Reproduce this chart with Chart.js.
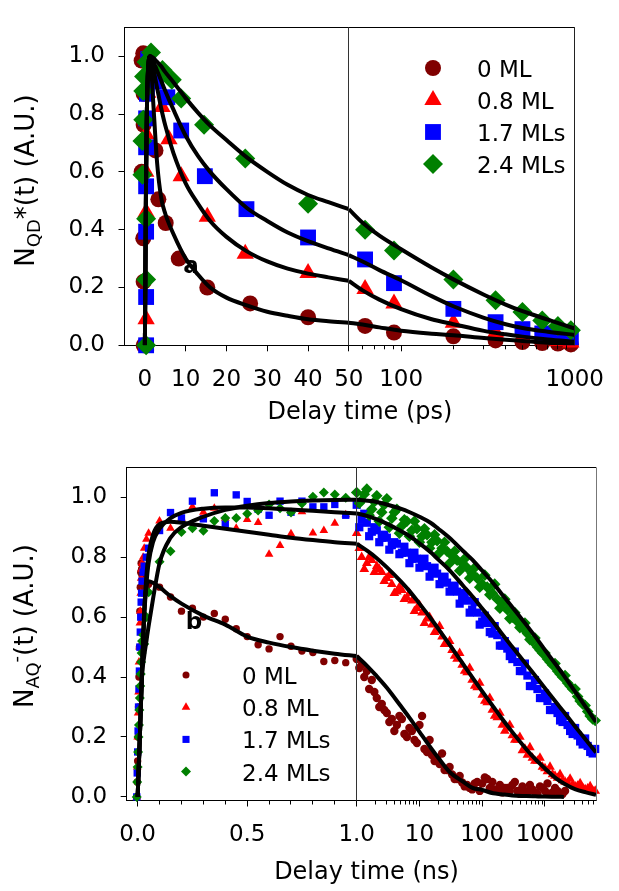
<!DOCTYPE html>
<html>
<head>
<meta charset="utf-8">
<script src="https://cdn.jsdelivr.net/npm/chart.js@4.4.0/dist/chart.umd.min.js"></script>
<style>
  html, body { margin: 0; padding: 0; background: #fff; }
  canvas { display: block; position: absolute; left: 0; }
  #chartA { top: 0; }
  #chartB { top: 440px; }
</style>
</head>
<body>
<canvas id="chartA" width="619" height="440"></canvas>
<canvas id="chartB" width="619" height="451"></canvas>
<script>
const FAMILY = "'DejaVu Sans', sans-serif";

const seriesNames = ["0 ML", "0.8 ML", "1.7 MLs", "2.4 MLs"];
const seriesColors = ["#800000", "#ff0000", "#0000ff", "#008000"];
const pointStyles = ["circle", "triangle", "rect", "rectRot"];

// ---- panel a : QD* population, delay in ps ----
const aLinTicks = [0, 10, 20, 30, 40, 50];
const aLogTicks = [100, 1000];
const aLogMinor = [60, 70, 80, 90, 200, 300, 400, 500, 600, 700, 800, 900];
const yTicks = [0, 0.2, 0.4, 0.6, 0.8, 1.0];

const aLinT0 = [-0.3, -0.3, -0.4, -0.8, -0.3, -0.3, -0.8, -0.4, 2.6, 3.3, 5.1, 8.3, 15.3, 25.8, 40];
const aLinY0 = [0, 0.22, 0.37, 0.60, 0.763, 0.87, 0.985, 1.01, 0.674, 0.505, 0.423, 0.30, 0.20, 0.145, 0.097];
const aLinT1 = [0.2, 0.3, 0.3, 0.2, 0.3, 0.7, 0.4, 4.2, 5.9, 8.9, 15.3, 24.6, 40];
const aLinY1 = [0, 0.09, 0.46, 0.60, 0.73, 0.874, 0.997, 0.824, 0.713, 0.585, 0.445, 0.317, 0.25];
const aLinT2 = [0.3, 0.3, 0.3, 0.3, 0.3, 0.3, 0.5, 0.8, 2.7, 5.5, 8.9, 14.7, 24.9, 40];
const aLinY2 = [0, 0.167, 0.393, 0.55, 0.685, 0.785, 0.87, 0.99, 0.913, 0.858, 0.743, 0.585, 0.471, 0.373];
const aLinT3 = [0.3, 0.3, 0.3, -0.6, -0.6, -0.4, -0.4, -0.2, 0.4, 1.5, 4.3, 6.6, 8.9, 14.5, 24.6, 40];
const aLinY3 = [0, 0.228, 0.438, 0.59, 0.707, 0.78, 0.88, 0.93, 0.98, 1.013, 0.952, 0.919, 0.854, 0.763, 0.646, 0.49];

const aLogT = [62, 91, 200, 350, 500, 650, 800, 950];
const aLogY0 = [0.067, 0.044, 0.031, 0.017, 0.011, 0.008, 0.006, 0.003];
const aLogY1 = [0.195, 0.145, 0.078, 0.044, 0.028, 0.022, 0.015, 0.010];
const aLogY2 = [0.297, 0.215, 0.126, 0.080, 0.056, 0.041, 0.035, 0.028];
const aLogY3 = [0.400, 0.328, 0.228, 0.156, 0.115, 0.086, 0.067, 0.052];

const aFitLinT = [0, 0.3, 0.7, 1.3, 2, 3, 4, 5, 7, 10, 13, 16, 20, 25, 30, 35, 40, 45, 50];
const aFitLin0 = [0, 0.6, 0.93, 1.0, 0.85, 0.63, 0.51, 0.455, 0.385, 0.30, 0.245, 0.20, 0.165, 0.138, 0.116, 0.102, 0.09, 0.083, 0.078];
const aFitLin1 = [0, 0.6, 0.93, 1.0, 0.96, 0.89, 0.82, 0.76, 0.665, 0.56, 0.49, 0.43, 0.375, 0.325, 0.29, 0.265, 0.248, 0.235, 0.223];
const aFitLin2 = [0, 0.6, 0.93, 1.0, 0.985, 0.95, 0.915, 0.88, 0.815, 0.725, 0.655, 0.60, 0.54, 0.475, 0.43, 0.39, 0.36, 0.335, 0.312];
const aFitLin3 = [0, 0.6, 0.93, 1.0, 0.995, 0.98, 0.965, 0.945, 0.91, 0.855, 0.805, 0.76, 0.71, 0.65, 0.60, 0.555, 0.52, 0.495, 0.471];

const aFitLogT = [50, 60, 75, 100, 150, 200, 300, 400, 500, 700, 1000];
const aFitLog0 = [0.078, 0.072, 0.062, 0.050, 0.040, 0.035, 0.025, 0.019, 0.015, 0.009, 0.005];
const aFitLog1 = [0.223, 0.190, 0.158, 0.125, 0.090, 0.073, 0.050, 0.038, 0.030, 0.020, 0.012];
const aFitLog2 = [0.312, 0.290, 0.260, 0.225, 0.170, 0.135, 0.095, 0.073, 0.060, 0.047, 0.036];
const aFitLog3 = [0.471, 0.424, 0.379, 0.332, 0.269, 0.228, 0.175, 0.141, 0.118, 0.089, 0.058];

// ---- panel b : AQ- population, delay in ns ----
const bLinTicks = [0, 0.5];
const bLinMinor = [0.1, 0.2, 0.3, 0.4, 0.6, 0.7, 0.8, 0.9];
const bLogTicks = [1, 10, 100, 1000];
const bLogMinor = [2, 3, 4, 5, 6, 7, 8, 9, 20, 30, 40, 50, 60, 70, 80, 90,
  200, 300, 400, 500, 600, 700, 800, 900, 2000, 3000, 4000, 5000, 6000];

const bLinT = [-0.004, -0.002, 0, 0.002, 0.004, 0.006, 0.008, 0.010, 0.012, 0.014, 0.016, 0.018, 0.020, 0.025, 0.030, 0.040,
  0.05, 0.1, 0.15, 0.2, 0.25, 0.3, 0.35, 0.4, 0.45, 0.5, 0.55, 0.6, 0.65, 0.7, 0.75, 0.8, 0.85, 0.9, 0.95];
const bLinY0 = [0, 0.05, 0.12, 0.2, 0.3, 0.4, 0.5, 0.62, 0.7, 0.75, 0.78, 0.76, 0.74, 0.68, 0.72, 0.70,
  0.71, 0.70, 0.667, 0.62, 0.63, 0.60, 0.612, 0.593, 0.561, 0.535, 0.508, 0.494, 0.535, 0.503, 0.487, 0.482, 0.452, 0.455, 0.448];
const bLinY1 = [0, 0.1, 0.2, 0.28, 0.35, 0.45, 0.5, 0.58, 0.62, 0.68, 0.73, 0.76, 0.78, 0.80, 0.83, 0.86,
  0.88, 0.921, 0.897, 0.93, 0.968, 0.95, 0.963, 0.93, 0.897, 0.926, 0.916, 0.81, 0.839, 0.878, 0.952, 0.881, 0.889, 0.913, 0.942];
const bLinY2 = [0, 0.08, 0.15, 0.22, 0.3, 0.36, 0.42, 0.5, 0.55, 0.6, 0.65, 0.68, 0.72, 0.75, 0.77, 0.80,
  0.83, 0.889, 0.949, 0.931, 0.987, 0.928, 1.015, 0.91, 1.008, 0.986, 0.96, 0.94, 0.987, 0.95, 0.987, 0.968, 0.968, 0.976, 0.94];
const bLinY3 = [0, 0.05, 0.1, 0.15, 0.2, 0.24, 0.29, 0.33, 0.37, 0.41, 0.45, 0.48, 0.52, 0.54, 0.51, 0.60,
  0.683, 0.785, 0.82, 0.884, 0.897, 0.888, 0.921, 0.931, 0.931, 0.945, 0.956, 0.976, 0.963, 0.949, 0.979, 1.002, 1.016, 1.009, 0.998];

// two interleaved sets of log-time samples (dense bands in the reference)
const bLogT = [1, 1.2, 1.45, 1.74, 2.09, 2.51, 3.02, 3.63, 4.37, 5.25, 6.31, 7.59, 9.12, 11, 13.2, 15.8,
  19.1, 22.9, 27.5, 33.1, 39.8, 47.9, 57.5, 69.2, 83.2, 100, 120, 145, 174, 209, 251, 302,
  363, 437, 525, 631, 759, 912, 1096, 1318, 1585, 1905, 2291, 2754, 3311, 3981, 4786, 5754];
const bLogT2 = [1.1, 1.32, 1.58, 1.91, 2.29, 2.75, 3.31, 3.98, 4.79, 5.75, 6.92, 8.32, 10, 12, 14.5, 17.4,
  20.9, 25.1, 30.2, 36.3, 43.7, 52.5, 63.1, 75.9, 91.2, 110, 132, 158, 191, 229, 275, 331,
  398, 479, 575, 692, 832, 1000, 1202, 1445, 1738, 2089, 2512, 3020, 3631, 4365, 5248, 6310];

const bLogY0 = [0.46, 0.44, 0.42, 0.39, 0.33, 0.31, 0.28, 0.26, 0.24, 0.26, 0.20, 0.22, 0.18, 0.27, 0.15, 0.14,
  0.13, 0.145, 0.09, 0.075, 0.06, 0.048, 0.04, 0.025, 0.05, 0.045, 0.06, 0.05, 0.02, 0.015, 0.03, 0.04,
  0.02, 0.035, 0.015, 0.025, 0.01, 0.03, 0.045, 0.015, 0.02, 0.01];
const bLogY0b = [0.43, 0.40, 0.36, 0.35, 0.30, 0.29, 0.25, 0.22, 0.27, 0.21, 0.23, 0.19, 0.24, 0.16, 0.19, 0.12,
  0.11, 0.09, 0.10, 0.06, 0.07, 0.035, 0.03, 0.045, 0.02, 0.065, 0.03, 0.025, 0.04, 0.03, 0.02, 0.05,
  0.01, 0.02, 0.04, 0.015, 0.035, 0.02, 0.01, 0.03, 0.01, 0.02];
const bLogY1 = [0.88, 0.80, 0.78, 0.79, 0.77, 0.75, 0.73, 0.71, 0.685, 0.69, 0.665, 0.655, 0.63, 0.615, 0.595, 0.575,
  0.555, 0.535, 0.51, 0.49, 0.46, 0.44, 0.415, 0.39, 0.365, 0.34, 0.315, 0.29, 0.265, 0.24, 0.23, 0.205,
  0.19, 0.155, 0.14, 0.13, 0.12, 0.10, 0.085, 0.075, 0.063, 0.055, 0.048, 0.04, 0.037, 0.03, 0.028, 0.02];
const bLogY1b = [0.83, 0.76, 0.80, 0.75, 0.76, 0.72, 0.74, 0.68, 0.70, 0.66, 0.68, 0.62, 0.64, 0.58, 0.60, 0.55,
  0.57, 0.51, 0.52, 0.47, 0.48, 0.42, 0.43, 0.37, 0.38, 0.32, 0.33, 0.27, 0.28, 0.22, 0.24, 0.19,
  0.20, 0.16, 0.165, 0.12, 0.13, 0.095, 0.10, 0.07, 0.075, 0.05, 0.06, 0.035, 0.045, 0.025, 0.035, 0.02];
const bLogY2 = [0.975, 0.925, 0.915, 0.885, 0.89, 0.865, 0.865, 0.84, 0.845, 0.815, 0.815, 0.795, 0.795, 0.785, 0.77, 0.75,
  0.745, 0.725, 0.715, 0.695, 0.685, 0.66, 0.655, 0.625, 0.615, 0.585, 0.58, 0.545, 0.54, 0.505, 0.495, 0.46,
  0.45, 0.42, 0.405, 0.37, 0.36, 0.33, 0.32, 0.29, 0.28, 0.25, 0.24, 0.21, 0.205, 0.175, 0.17, 0.145];
const bLogY2b = [0.90, 0.945, 0.87, 0.90, 0.85, 0.875, 0.825, 0.85, 0.81, 0.835, 0.78, 0.815, 0.765, 0.795, 0.735, 0.765,
  0.71, 0.735, 0.685, 0.705, 0.645, 0.68, 0.615, 0.65, 0.575, 0.605, 0.55, 0.57, 0.505, 0.52, 0.47, 0.485,
  0.42, 0.445, 0.37, 0.39, 0.33, 0.345, 0.29, 0.30, 0.255, 0.27, 0.22, 0.23, 0.185, 0.195, 0.15, 0.16];
const bLogY3 = [1.016, 0.99, 1.027, 0.96, 1.005, 0.95, 0.995, 0.93, 0.96, 0.905, 0.92, 0.89, 0.895, 0.87, 0.875, 0.85,
  0.855, 0.83, 0.82, 0.805, 0.79, 0.78, 0.765, 0.745, 0.73, 0.71, 0.70, 0.68, 0.66, 0.645, 0.625, 0.60,
  0.585, 0.565, 0.545, 0.52, 0.50, 0.48, 0.46, 0.44, 0.42, 0.40, 0.38, 0.36, 0.335, 0.31, 0.285, 0.26];
const bLogY3b = [0.98, 1.01, 0.94, 0.985, 0.92, 0.975, 0.90, 0.95, 0.88, 0.925, 0.87, 0.92, 0.85, 0.895, 0.83, 0.875,
  0.815, 0.85, 0.78, 0.82, 0.755, 0.795, 0.73, 0.765, 0.70, 0.74, 0.675, 0.71, 0.63, 0.66, 0.595, 0.615,
  0.565, 0.58, 0.525, 0.53, 0.49, 0.48, 0.45, 0.445, 0.41, 0.405, 0.37, 0.36, 0.32, 0.305, 0.27, 0.255];

const bFitLinT = [0, 0.01, 0.02, 0.03, 0.04, 0.05, 0.07, 0.1, 0.15, 0.2, 0.3, 0.4, 0.5, 0.6, 0.7, 0.8, 0.9, 1.0];
const bFitLin0 = [0, 0.2, 0.42, 0.62, 0.70, 0.72, 0.715, 0.70, 0.67, 0.645, 0.605, 0.575, 0.535, 0.515, 0.50, 0.488, 0.478, 0.47];
const bFitLin1 = [0, 0.2, 0.42, 0.62, 0.74, 0.81, 0.875, 0.91, 0.918, 0.915, 0.905, 0.895, 0.885, 0.875, 0.865, 0.857, 0.85, 0.845];
const bFitLin2 = [0, 0.2, 0.42, 0.60, 0.71, 0.78, 0.85, 0.895, 0.93, 0.948, 0.962, 0.966, 0.966, 0.963, 0.959, 0.955, 0.95, 0.946];
const bFitLin3 = [0, 0.2, 0.40, 0.47, 0.52, 0.57, 0.66, 0.78, 0.865, 0.90, 0.935, 0.958, 0.972, 0.981, 0.986, 0.989, 0.991, 0.992];

const bFitLogT = [1, 1.5, 2, 3, 5, 7, 10, 15, 20, 30, 50, 70, 100, 150, 200, 300, 500, 700, 1000, 1500, 2000, 3000, 4500, 6500];
const bFitLog0 = [0.47, 0.435, 0.407, 0.365, 0.304, 0.263, 0.217, 0.165, 0.13, 0.084, 0.05, 0.03, 0.023, 0.012, 0.009, 0.005,
  0.003, 0.002, 0.001, 0.0005, 0];
const bFitLog1 = [0.845, 0.82, 0.80, 0.767, 0.72, 0.686, 0.645, 0.597, 0.561, 0.509, 0.442, 0.398, 0.352, 0.301, 0.265, 0.217,
  0.16, 0.126, 0.095, 0.062, 0.045, 0.026, 0.015, 0.007];
const bFitLog2 = [0.946, 0.937, 0.928, 0.912, 0.888, 0.87, 0.846, 0.817, 0.792, 0.757, 0.704, 0.669, 0.629, 0.583, 0.548, 0.501,
  0.443, 0.404, 0.363, 0.316, 0.283, 0.236, 0.19, 0.148];
const bFitLog3 = [0.992, 0.988, 0.985, 0.976, 0.962, 0.95, 0.935, 0.915, 0.895, 0.865, 0.82, 0.791, 0.755, 0.713, 0.68, 0.634,
  0.575, 0.535, 0.49, 0.441, 0.405, 0.352, 0.299, 0.25];

function pts(xs, ys) {
  return ys.map((y, k) => ({ x: xs[k], y: y }));
}

function scatterSet(xs, ys, i, axis, radii) {
  return {
    label: seriesNames[i],
    data: pts(xs, ys),
    xAxisID: axis,
    yAxisID: "y",
    showLine: false,
    pointStyle: pointStyles[i],
    pointRadius: radii[i],
    pointBackgroundColor: seriesColors[i],
    pointBorderWidth: 0,
    clip: false,
    order: 4 - i
  };
}

function fitSet(xs, ys, axis) {
  return {
    data: pts(xs, ys),
    xAxisID: axis,
    yAxisID: "y",
    showLine: true,
    pointRadius: 0,
    borderColor: "#000",
    borderWidth: 4,
    cubicInterpolationMode: "monotone",
    fill: false,
    order: 0
  };
}

const tickFont = { family: FAMILY, size: 23 };
const gridOpts = { display: true, drawOnChartArea: false, drawTicks: true, tickLength: 6, tickWidth: 1, tickColor: "#000", color: "#000" };
const borderOpts = { display: true, color: "#000", width: 1 };

function xScale(type, s, height) {
  return {
    type: type, axis: "x", position: "bottom", stack: "x", stackWeight: s.weight,
    min: s.min, max: s.max,
    grid: gridOpts, border: borderOpts,
    ticks: { font: tickFont, color: "#000", padding: 15, autoSkip: false, maxRotation: 0, minRotation: 0, callback: s.label },
    afterBuildTicks: sc => { sc.ticks = s.ticks.map(v => ({ value: v })); },
    afterFit: sc => { sc.height = height; }
  };
}

function makeDecor(d) {
  return {
    id: "decor",
    afterDraw(chart) {
      const ctx = chart.ctx;
      const area = chart.chartArea;
      const xl = chart.scales.xLin;
      const xg = chart.scales.xLog;
      const crisp = v => Math.round(v - 0.5) + 0.5;
      ctx.save();
      ctx.lineWidth = 1;
      ctx.strokeStyle = "#000";
      ctx.beginPath();
      ctx.moveTo(area.left, crisp(area.top));
      ctx.lineTo(area.right, crisp(area.top));
      ctx.stroke();
      ctx.strokeStyle = d.rightColor;
      ctx.beginPath();
      ctx.moveTo(crisp(area.right), area.top);
      ctx.lineTo(crisp(area.right), area.bottom);
      ctx.stroke();
      ctx.strokeStyle = "#333";
      ctx.beginPath();
      ctx.moveTo(crisp(xl.right), area.top);
      ctx.lineTo(crisp(xl.right), area.bottom);
      ctx.stroke();

      // minor ticks
      ctx.strokeStyle = "#000";
      ctx.beginPath();
      d.minorLin.forEach(v => {
        const x = crisp(xl.getPixelForValue(v));
        ctx.moveTo(x, area.bottom); ctx.lineTo(x, area.bottom + 4);
      });
      d.minorLog.forEach(v => {
        const x = crisp(xg.getPixelForValue(v));
        ctx.moveTo(x, area.bottom); ctx.lineTo(x, area.bottom + 4);
      });
      ctx.stroke();

      ctx.fillStyle = "#000";
      ctx.textBaseline = "alphabetic";

      // x title
      ctx.font = "24px " + FAMILY;
      ctx.textAlign = "center";
      ctx.fillText(d.xTitle, d.xTitlePos[0], d.xTitlePos[1]);

      // y title with sub/superscripts, rotated
      let total = 0;
      d.yTitle.forEach(p => {
        ctx.font = p.size + "px " + FAMILY;
        p.w = ctx.measureText(p.text).width;
        total += p.w;
      });
      ctx.save();
      ctx.translate(d.yTitlePos[0], d.yTitlePos[1]);
      ctx.rotate(-Math.PI / 2);
      ctx.textAlign = "left";
      let x = -total / 2;
      d.yTitle.forEach(p => {
        ctx.font = p.size + "px " + FAMILY;
        ctx.fillText(p.text, x, p.dy);
        x += p.w;
      });
      ctx.restore();

      // panel letter
      ctx.font = "bold 23px " + FAMILY;
      ctx.textAlign = "center";
      ctx.textBaseline = "middle";
      ctx.fillText(d.letter, d.letterPos[0], d.letterPos[1]);

      // legend
      ctx.textAlign = "left";
      ctx.textBaseline = "alphabetic";
      ctx.font = "23px " + FAMILY;
      seriesNames.forEach((name, i) => {
        const yy = d.legend.y0 + i * d.legend.dy;
        ctx.fillStyle = seriesColors[i];
        Chart.helpers.drawPoint(ctx, { pointStyle: pointStyles[i], radius: d.legend.radii[i], rotation: 0, borderWidth: 0 }, d.legend.markerX, yy);
        ctx.fillStyle = "#000";
        ctx.fillText(name, d.legend.textX, yy + d.legend.textDy);
      });
      ctx.restore();
    }
  };
}

function buildChart(id, p) {
  const datasets = [];
  p.fits.forEach(f => datasets.push(fitSet(f[0], f[1], f[2])));
  p.scatters.forEach(s => datasets.push(scatterSet(s[0], s[1], s[2], s[3], s[3] === "xLog" ? p.logRadii : p.radii)));
  return new Chart(document.getElementById(id), {
    type: "scatter",
    data: { datasets: datasets },
    options: {
      responsive: false,
      animation: false,
      devicePixelRatio: 1,
      events: [],
      layout: { padding: p.padding },
      plugins: { legend: { display: false }, tooltip: { enabled: false } },
      scales: {
        xLin: xScale("linear", p.lin, p.xHeight),
        xLog: xScale("logarithmic", p.log, p.xHeight),
        y: {
          type: "linear", position: "left", min: p.yMin, max: 1.1,
          grid: gridOpts, border: borderOpts,
          ticks: { font: tickFont, color: "#000", padding: 13.5, callback: v => v.toFixed(1) },
          afterBuildTicks: sc => { sc.ticks = yTicks.map(v => ({ value: v })); },
          afterFit: sc => { sc.width = p.yWidth; }
        }
      }
    },
    plugins: [makeDecor(p.decor)]
  });
}

const aRadii = [8, 10, 11.2, 10];
const bRadii = [3.7, 5, 5.2, 5];
const bLogRadii = [4.2, 5.6, 5.8, 5.8];

buildChart("chartA", {
  padding: { left: 0, right: 31.3, top: 15.5, bottom: 0 },
  yWidth: 124.5, xHeight: 94.7, yMin: 0, radii: aRadii, logRadii: aRadii,
  lin: { min: -5, max: 50, weight: 230.8, ticks: aLinTicks, label: v => String(v) },
  log: { min: 50, max: 1000, weight: 232.4, ticks: aLogTicks, label: v => String(v) },
  fits: [
    [aFitLinT, aFitLin0, "xLin"], [aFitLinT, aFitLin1, "xLin"], [aFitLinT, aFitLin2, "xLin"], [aFitLinT, aFitLin3, "xLin"],
    [aFitLogT, aFitLog0, "xLog"], [aFitLogT, aFitLog1, "xLog"], [aFitLogT, aFitLog2, "xLog"], [aFitLogT, aFitLog3, "xLog"]
  ],
  scatters: [
    [aLinT0, aLinY0, 0, "xLin"], [aLinT1, aLinY1, 1, "xLin"], [aLinT2, aLinY2, 2, "xLin"], [aLinT3, aLinY3, 3, "xLin"],
    [aLogT, aLogY0, 0, "xLog"], [aLogT, aLogY1, 1, "xLog"], [aLogT, aLogY2, 2, "xLog"], [aLogT, aLogY3, 3, "xLog"]
  ],
  decor: {
    rightColor: "#222",
    minorLin: [], minorLog: aLogMinor,
    xTitle: "Delay time (ps)", xTitlePos: [360, 419],
    yTitle: [{ text: "N", size: 26, dy: 0 }, { text: "QD", size: 18, dy: 6 }, { text: "*(t) (A.U.)", size: 26, dy: 0 }],
    yTitlePos: [34, 180.5],
    letter: "a", letterPos: [191, 267],
    legend: { markerX: 433, textX: 477, y0: 68, dy: 32, textDy: 9, radii: [8, 10, 11.2, 10] }
  }
});

buildChart("chartB", {
  padding: { left: 0, right: 23, top: 10.3, bottom: 0 },
  yWidth: 126.7, xHeight: 90.5, yMin: -0.012, radii: bRadii, logRadii: bLogRadii,
  lin: { min: -0.05, max: 1.0, weight: 230, ticks: bLinTicks, label: v => v.toFixed(1) },
  log: { min: 1, max: 6500, weight: 239.3, ticks: bLogTicks, label: v => (v === 1 ? "1.0" : String(v)) },
  fits: [
    [bFitLinT, bFitLin0, "xLin"], [bFitLinT, bFitLin1, "xLin"], [bFitLinT, bFitLin2, "xLin"], [bFitLinT, bFitLin3, "xLin"],
    [bFitLogT, bFitLog0, "xLog"], [bFitLogT, bFitLog1, "xLog"], [bFitLogT, bFitLog2, "xLog"], [bFitLogT, bFitLog3, "xLog"]
  ],
  scatters: [
    [bLinT, bLinY0, 0, "xLin"], [bLinT, bLinY1, 1, "xLin"], [bLinT, bLinY2, 2, "xLin"], [bLinT, bLinY3, 3, "xLin"],
    [bLogT, bLogY0, 0, "xLog"], [bLogT2, bLogY0b, 0, "xLog"],
    [bLogT, bLogY1, 1, "xLog"], [bLogT2, bLogY1b, 1, "xLog"],
    [bLogT, bLogY2, 2, "xLog"], [bLogT2, bLogY2b, 2, "xLog"],
    [bLogT, bLogY3, 3, "xLog"], [bLogT2, bLogY3b, 3, "xLog"]
  ],
  decor: {
    rightColor: "#777",
    minorLin: bLinMinor, minorLog: bLogMinor,
    xTitle: "Delay time (ns)", xTitlePos: [366.5, 438.5],
    yTitle: [{ text: "N", size: 26, dy: 0 }, { text: "AQ", size: 18, dy: 6 }, { text: "-", size: 18, dy: -11 }, { text: "(t) (A.U.)", size: 26, dy: 0 }],
    yTitlePos: [32.5, 186],
    letter: "b", letterPos: [194, 183],
    legend: { markerX: 186, textX: 242, y0: 235, dy: 32.2, textDy: 9, radii: [3.5, 5, 5, 5] }
  }
});
</script>
</body>
</html>
